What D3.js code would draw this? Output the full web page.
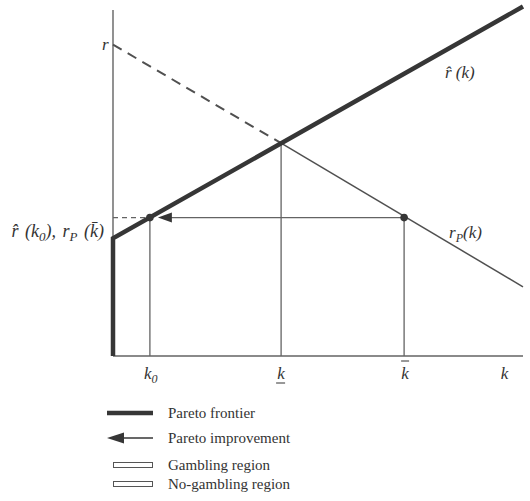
<!DOCTYPE html>
<html>
<head>
<meta charset="utf-8">
<title>pareto frontier</title>
<script src="https://cdn.jsdelivr.net/npm/d3@7"></script>
<style>
  body { margin: 0; background: #fff; }
</style>
</head>
<body>
<div id="chart"></div>
<script>
// key k values: k0, k underline, k bar
const kValues = [0.9, 4.1, 7.1];
// r-hat / rP level at k0 and k bar
const level = 4.0;
// Pareto frontier (thick): vertical part then r-hat(k)
const frontier = [[0, 0], [0, 3.4], [10, 10.1]];
// rP(k): dashed above the frontier, solid below
const rPdashed = [[0, 9], [4.1, 6.15]];
const rPsolid = [[4.1, 6.15], [10, 2.0]];
const legendLabels = ["Pareto frontier", "Pareto improvement", "Gambling region", "No-gambling region"];

const width = 530, height = 501;
const ink = "#363636", thin = "#636363";
const serif = "'Liberation Serif', 'DejaVu Serif', serif";

const x = d3.scaleLinear().domain([0, 10]).range([113, 523]);
const y = d3.scaleLinear().domain([0, 10]).range([356, 10]);
const line = d3.line().x(d => x(d[0])).y(d => y(d[1]));

const svg = d3.select("#chart").append("svg")
    .attr("width", width)
    .attr("height", height)
    .style("font-family", serif);

// axes
svg.append("line")
    .attr("x1", x(0)).attr("x2", x(0))
    .attr("y1", y(0)).attr("y2", y(10))
    .attr("stroke", thin).attr("stroke-width", 1.4);
svg.append("line")
    .attr("x1", x(0)).attr("x2", x(10))
    .attr("y1", y(0)).attr("y2", y(0))
    .attr("stroke", thin).attr("stroke-width", 1.4);

// verticals
const tops = [level, rPdashed[1][1], level];
svg.append("g")
  .selectAll("line")
  .data(kValues)
  .join("line")
    .attr("x1", d => x(d)).attr("x2", d => x(d))
    .attr("y1", y(0))
    .attr("y2", (d, i) => y(tops[i]))
    .attr("stroke", thin).attr("stroke-width", 1.3);

// dashed guide at level from axis to k0
svg.append("line")
    .attr("x1", x(0)).attr("x2", x(kValues[0]))
    .attr("y1", y(level)).attr("y2", y(level))
    .attr("stroke", thin).attr("stroke-width", 1.3)
    .attr("stroke-dasharray", "5,4");

// rP(k)
svg.append("path")
    .attr("d", line(rPdashed))
    .attr("fill", "none").attr("stroke", "#505050").attr("stroke-width", 2)
    .attr("stroke-dasharray", "10,7");
svg.append("path")
    .attr("d", line(rPsolid))
    .attr("fill", "none").attr("stroke", "#505050").attr("stroke-width", 1.5);

// Pareto improvement arrow (k bar -> k0)
const arrowTip = x(kValues[0]) + 8;
svg.append("line")
    .attr("x1", x(kValues[2])).attr("x2", arrowTip + 12)
    .attr("y1", y(level)).attr("y2", y(level))
    .attr("stroke", thin).attr("stroke-width", 1.3);
svg.append("path")
    .attr("d", `M${arrowTip},${y(level)} l14,-5 l0,10 z`)
    .attr("fill", ink);

// frontier
svg.append("path")
    .attr("d", line(frontier))
    .attr("fill", "none").attr("stroke", ink).attr("stroke-width", 4.5)
    .attr("stroke-linejoin", "miter");

// dots
svg.append("g")
  .selectAll("circle")
  .data([kValues[0], kValues[2]])
  .join("circle")
    .attr("cx", d => x(d))
    .attr("cy", y(level))
    .attr("r", 3.8)
    .attr("fill", ink);

// math text helper: parts = [text, isSub]
function mathText(g, px, py, parts, anchor, size) {
  size = size || 17;
  const sub = Math.round(size * 0.72);
  const t = g.append("text")
      .attr("x", px).attr("y", py)
      .attr("text-anchor", anchor || "start")
      .attr("font-size", size)
      .attr("font-style", "italic")
      .attr("fill", "#333");
  let shifted = false;
  parts.forEach(([s, isSub]) => {
    const span = t.append("tspan").text(s);
    if (isSub && !shifted) { span.attr("dy", 4).attr("font-size", sub); shifted = true; }
    else if (isSub) { span.attr("font-size", sub); }
    else if (shifted) { span.attr("dy", -4); shifted = false; }
  });
  return t;
}

// axis labels
mathText(svg, x(0) - 11, y(9) + 5, [["r"]]);
mathText(svg, 445, 78, [["r\u0302 (k"], [")"]]);
mathText(svg, 449, 238, [["r"], ["P", true], ["(k)"]]);
mathText(svg, 104, 237, [["r\u0302 (k"], ["0", true], ["), r"], ["P", true], [" (k\u0304)"]], "end", 18)
    .attr("word-spacing", 2);

mathText(svg, x(kValues[0]) - 6, 379, [["k"], ["0", true]]);
mathText(svg, x(kValues[1]), 379, [["k"]], "middle");
svg.append("line")
    .attr("x1", x(kValues[1]) - 5).attr("x2", x(kValues[1]) + 4)
    .attr("y1", 383).attr("y2", 383)
    .attr("stroke", "#333").attr("stroke-width", 1);
mathText(svg, x(kValues[2]) + 1, 379, [["k"]], "middle");
svg.append("line")
    .attr("x1", x(kValues[2]) - 3).attr("x2", x(kValues[2]) + 5)
    .attr("y1", 361).attr("y2", 361)
    .attr("stroke", "#333").attr("stroke-width", 1);
mathText(svg, x(9.55), 379, [["k"]], "middle");

// legend
const ly = [413, 438, 465, 484];
const leg = svg.append("g");
leg.selectAll("text")
  .data(legendLabels)
  .join("text")
    .attr("x", 168)
    .attr("y", (d, i) => ly[i] + 5)
    .attr("font-size", 15)
    .attr("fill", "#333")
    .text(d => d);
leg.append("line")
    .attr("x1", 107).attr("x2", 153)
    .attr("y1", ly[0]).attr("y2", ly[0])
    .attr("stroke", ink).attr("stroke-width", 4.5);
leg.append("line")
    .attr("x1", 120).attr("x2", 153)
    .attr("y1", ly[1]).attr("y2", ly[1])
    .attr("stroke", ink).attr("stroke-width", 1.6);
leg.append("path")
    .attr("d", `M107,${ly[1]} l17,-5.5 l0,11 z`)
    .attr("fill", ink);
leg.selectAll("rect")
  .data(ly.slice(2))
  .join("rect")
    .attr("x", 113.5)
    .attr("y", d => d - 2.5)
    .attr("width", 39)
    .attr("height", 5)
    .attr("fill", "none")
    .attr("stroke", "#555")
    .attr("stroke-width", 1);
</script>
</body>
</html>
